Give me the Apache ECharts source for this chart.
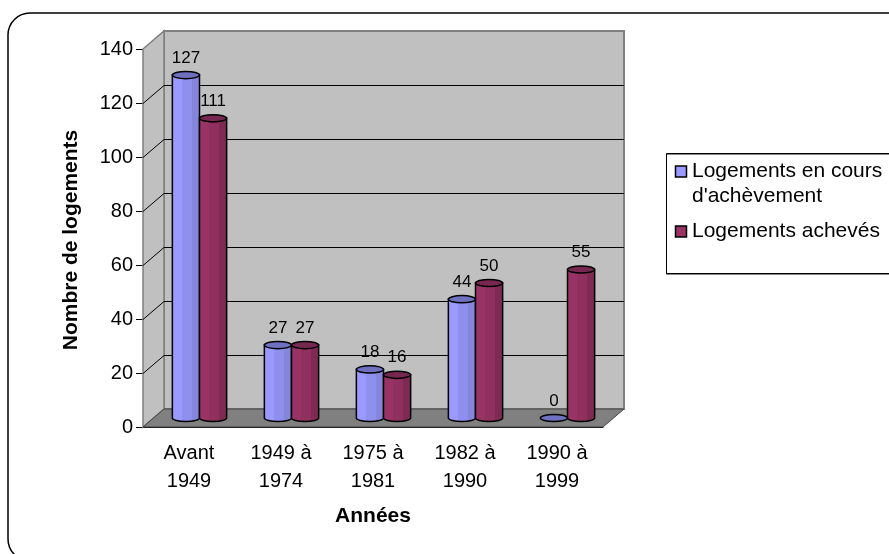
<!DOCTYPE html>
<html>
<head>
<meta charset="utf-8">
<style>
  html, body { margin: 0; padding: 0; background: #fff; }
  #main { width: 889px; height: 554px; }
</style>
</head>
<body>
<div id="main"></div>
<script src="https://cdn.jsdelivr.net/npm/echarts@6/dist/echarts.min.js"></script>
<script>
var categories = ['Avant\n1949', '1949 à\n1974', '1975 à\n1981', '1982 à\n1990', '1990 à\n1999']
var enCours = [127, 27, 18, 44, 0]
var acheves = [111, 27, 16, 50, 55]
var yTicks = [0, 20, 40, 60, 80, 100, 120, 140]
var legendEnCours = ['Logements en cours', 'd\'achèvement']
var legendAcheves = 'Logements achevés'

var font = '"Liberation Sans", Arial, sans-serif'
var depthX = 21
var depthY = 18
var barFrac = 0.295

var myChart = echarts.init(document.getElementById('main'))

// murs et quadrillage du faux 3D
function wallItem (params, api) {
  var sys = params.coordSys
  var left = sys.x
  var right = sys.x + sys.width
  var y = Math.round(api.coord([0, api.value(1)])[1]) + 0.5
  var top = sys.y
  var bottom = sys.y + sys.height
  var children = []
  if (params.dataIndex === 0) {
    children.push({
      type: 'polygon',
      shape: { points: [[left + depthX, top - depthY], [right + depthX, top - depthY], [right + depthX, bottom - depthY], [left + depthX, bottom - depthY]] },
      style: { fill: '#c0c0c0', stroke: '#808080', lineWidth: 2 }
    })
    children.push({
      type: 'polygon',
      shape: { points: [[left, top], [left + depthX, top - depthY], [left + depthX, bottom - depthY], [left, bottom]] },
      style: { fill: '#c0c0c0', stroke: '#808080', lineWidth: 1.5 }
    })
    children.push({
      type: 'polygon',
      shape: { points: [[left, bottom], [left + depthX, bottom - depthY], [right + depthX, bottom - depthY], [right, bottom]] },
      style: { fill: '#808080', stroke: '#444', lineWidth: 1 }
    })
  } else if (api.value(1) < yTicks[yTicks.length - 1]) {
    children.push({
      type: 'polyline',
      shape: { points: [[left, y], [left + depthX, y - depthY], [right + depthX, y - depthY]] },
      style: { fill: null, stroke: '#000', lineWidth: 1 }
    })
  }
  return { type: 'group', silent: true, children: children }
}

function cylinder (shift, colors) {
  return function (params, api) {
    var i = api.value(0)
    var v = api.value(1)
    var band = api.size([1, 0])[0]
    var w = band * barFrac
    var rx = w / 2
    var ry = 3.6
    var c = api.coord([i, 0])
    var cx = c[0] + depthX / 2 + shift * w
    var by = c[1] - depthY / 2
    var ty = api.coord([i, v])[1] - depthY / 2
    var l = cx - rx
    var r = cx + rx
    var children = []
    if (v > 0) {
      children.push({
        type: 'path',
        shape: { pathData: 'M' + l + ' ' + ty + ' L' + l + ' ' + by + ' A' + rx + ' ' + ry + ' 0 0 0 ' + r + ' ' + by + ' L' + r + ' ' + ty + ' Z' },
        style: {
          fill: new echarts.graphic.LinearGradient(0, 0, 1, 0, [
            { offset: 0, color: colors.left },
            { offset: 0.35, color: colors.left },
            { offset: 0.36, color: colors.mid },
            { offset: 0.7, color: colors.mid },
            { offset: 0.71, color: colors.right },
            { offset: 1, color: colors.right }
          ]),
          stroke: '#000',
          lineWidth: 1.5
        }
      })
    }
    children.push({
      type: 'ellipse',
      shape: { cx: cx, cy: ty, rx: rx, ry: ry },
      style: { fill: colors.cap, stroke: '#000', lineWidth: 1.5 }
    })
    children.push({
      type: 'text',
      style: { text: String(v), x: cx, y: ty - 17, fill: '#000', font: '17px ' + font, align: 'center', verticalAlign: 'middle' }
    })
    return { type: 'group', silent: true, children: children }
  }
}

var legendFont = '21px ' + font

var option = {
  animation: false,
  backgroundColor: '#fff',
  graphic: [
    {
      type: 'rect',
      silent: true,
      z: -10,
      shape: { x: 8, y: 13, width: 1000, height: 548, r: 22 },
      style: { fill: '#fff', stroke: '#000', lineWidth: 1.5 }
    },
    {
      type: 'group',
      silent: true,
      z: 10,
      children: [
        { type: 'rect', shape: { x: 666.5, y: 153.5, width: 300, height: 120 }, style: { fill: '#fff', stroke: '#000', lineWidth: 1, shadowColor: '#888', shadowOffsetY: 1 } },
        { type: 'rect', shape: { x: 675.5, y: 166, width: 11, height: 11 }, style: { fill: '#9999ff', stroke: '#000', lineWidth: 1.5 } },
        { type: 'text', style: { text: legendEnCours[0], x: 692, y: 171, font: legendFont, fill: '#000', verticalAlign: 'middle' } },
        { type: 'text', style: { text: legendEnCours[1], x: 692, y: 196, font: legendFont, fill: '#000', verticalAlign: 'middle' } },
        { type: 'rect', shape: { x: 675.5, y: 226, width: 11, height: 11 }, style: { fill: '#993366', stroke: '#000', lineWidth: 1.5 } },
        { type: 'text', style: { text: legendAcheves, x: 692, y: 231, font: legendFont, fill: '#000', verticalAlign: 'middle' } }
      ]
    }
  ],
  grid: { left: 143, right: 286, top: 49, bottom: 127 },
  xAxis: {
    type: 'category',
    data: categories,
    name: 'Années',
    nameLocation: 'middle',
    nameGap: 79,
    nameTextStyle: { fontFamily: font, fontSize: 21, fontWeight: 'bold', color: '#000' },
    axisLine: { lineStyle: { color: '#000', width: 1 } },
    axisTick: { length: 7, lineStyle: { color: '#000' } },
    axisLabel: { fontFamily: font, fontSize: 20, color: '#000', lineHeight: 28, margin: 12, interval: 0 }
  },
  yAxis: {
    type: 'value',
    min: 0,
    max: 140,
    interval: 20,
    name: 'Nombre de logements',
    nameLocation: 'middle',
    nameGap: 61,
    nameTextStyle: { fontFamily: font, fontSize: 21, fontWeight: 'bold', color: '#000', padding: [0, 4, 0, 0] },
    splitLine: { show: false },
    axisLine: { show: true, onZero: false, lineStyle: { color: '#000', width: 1 } },
    axisTick: { show: true, length: 7, lineStyle: { color: '#000' } },
    axisLabel: { fontFamily: font, fontSize: 20, color: '#000', margin: 10 }
  },
  series: [
    {
      type: 'custom',
      z: 1,
      silent: true,
      renderItem: wallItem,
      data: yTicks.map(function (t) { return [0, t] })
    },
    {
      name: 'Logements en cours d\'achèvement',
      type: 'custom',
      z: 3,
      renderItem: cylinder(-0.5, { left: '#9999ff', mid: '#8f8fee', right: '#8585dc', cap: '#6e70c0' }),
      data: enCours.map(function (v, i) { return [i, v] })
    },
    {
      name: 'Logements achevés',
      type: 'custom',
      z: 4,
      renderItem: cylinder(0.5, { left: '#993366', mid: '#8f305f', right: '#7f2a55', cap: '#772850' }),
      data: acheves.map(function (v, i) { return [i, v] })
    }
  ]
}
myChart.setOption(option)
</script>
</body>
</html>
